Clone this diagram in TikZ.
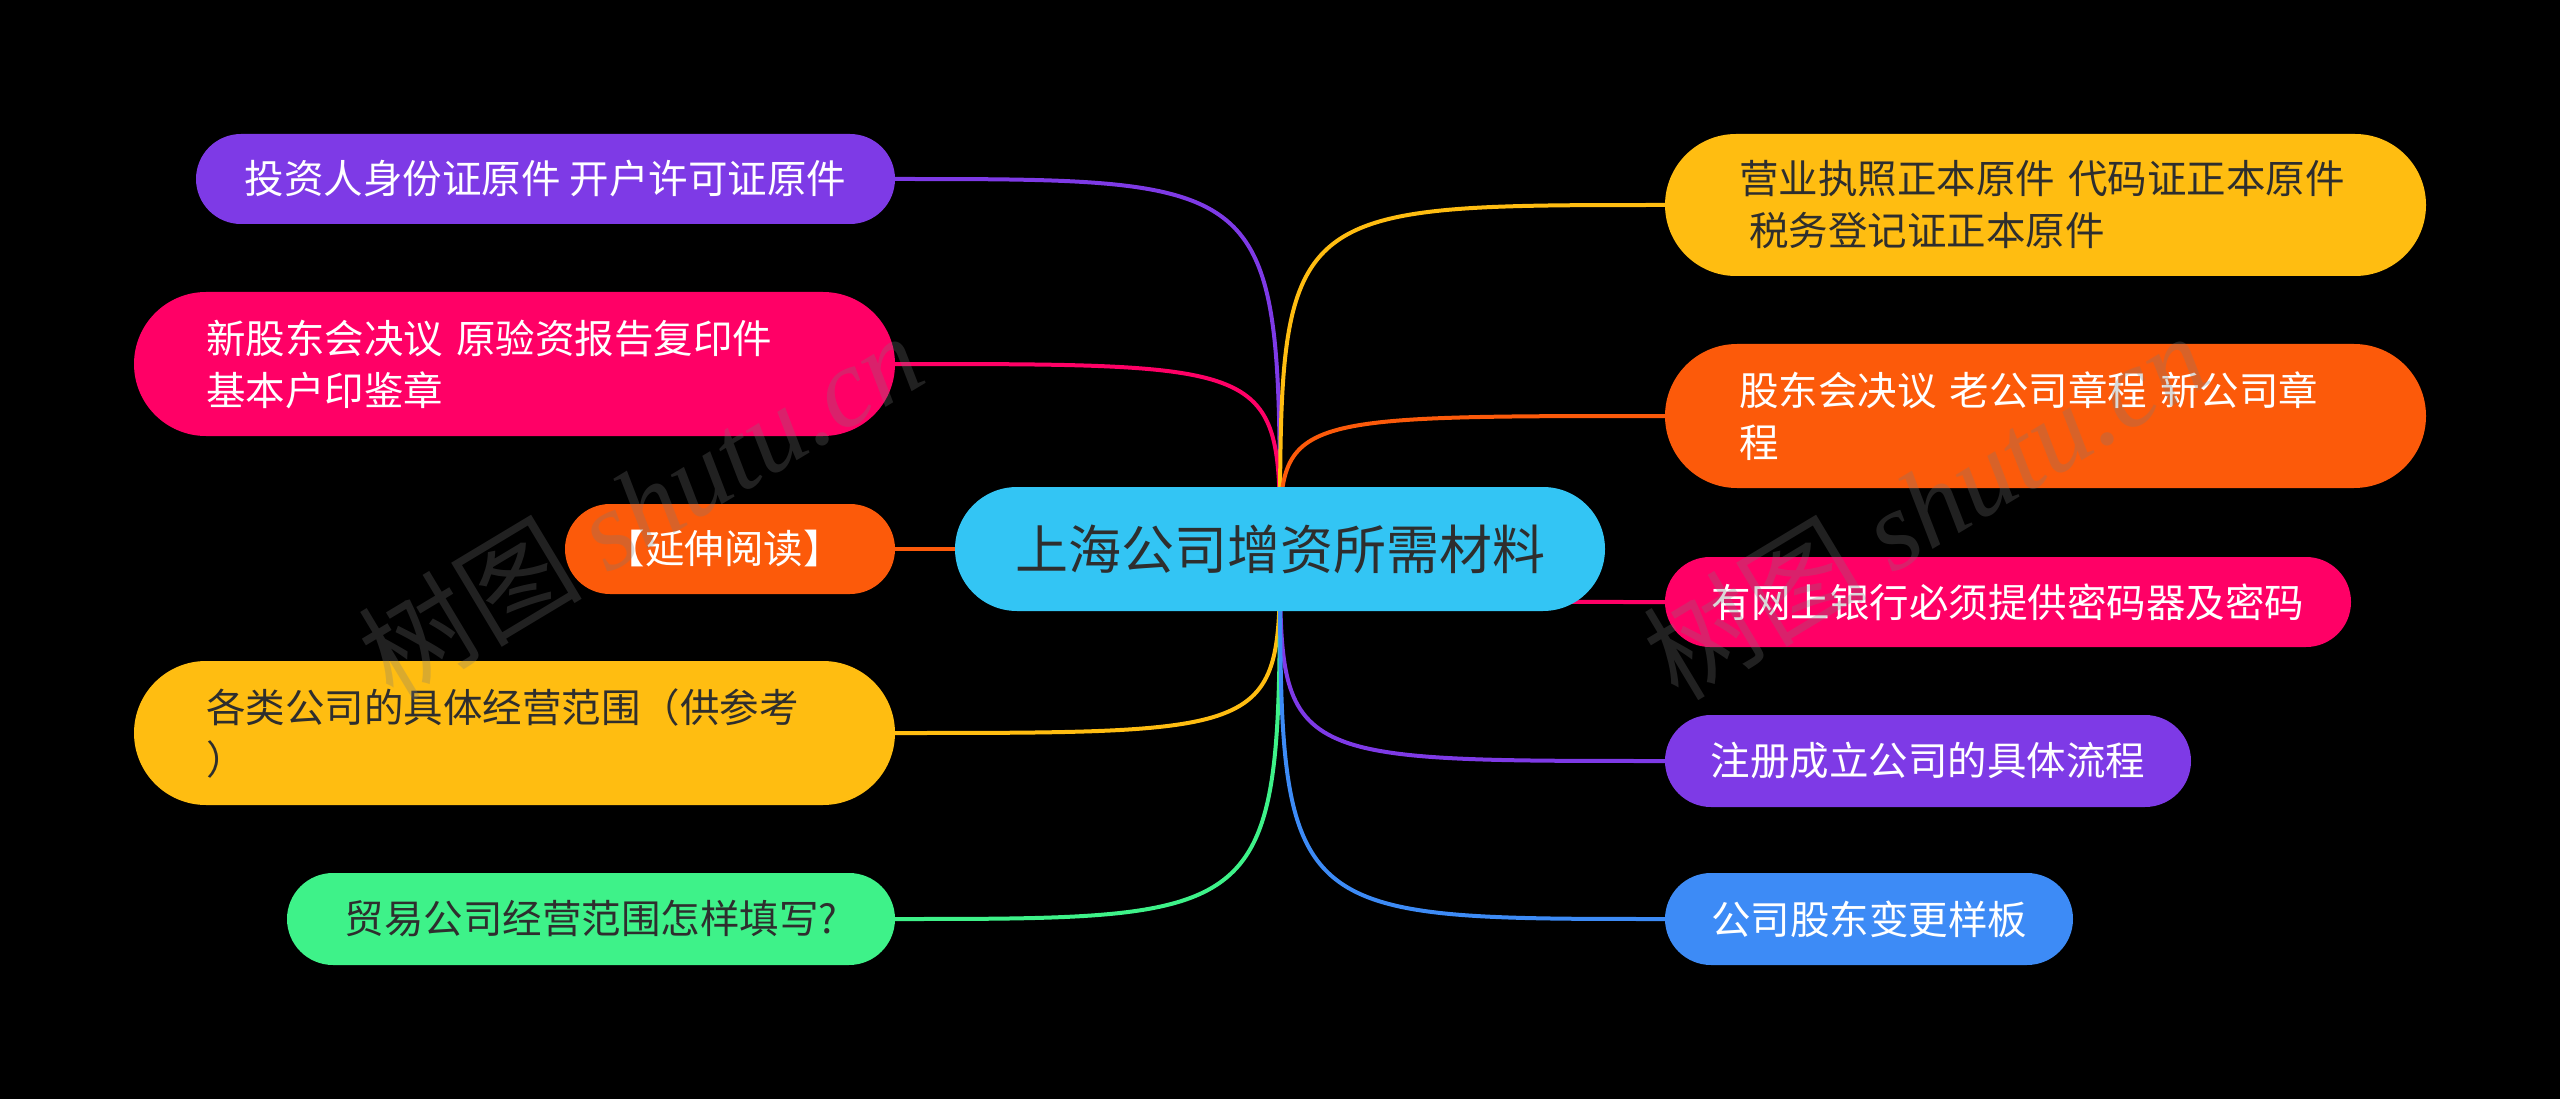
\documentclass[tikz,border=0pt]{standalone}
\usepackage{fontspec}
\setmainfont{Noto Sans CJK SC}
\newfontfamily\wmlatin{Liberation Serif}
\usetikzlibrary{backgrounds}
\definecolor{cpurple}{HTML}{7E3AE6}
\definecolor{cpink}{HTML}{FF0066}
\definecolor{corange}{HTML}{FC5A0A}
\definecolor{cyellow}{HTML}{FFBD11}
\definecolor{cgreen}{HTML}{3EF289}
\definecolor{cblue}{HTML}{3D8BF6}
\definecolor{ccyan}{HTML}{33C5F4}
\definecolor{dtext}{HTML}{2E2E2E}
\definecolor{wm}{HTML}{7A7A7A}
\begin{document}
\begin{tikzpicture}[x=1pt,y=-1pt,
  pill/.style={rectangle, rounded corners=#1, minimum height=2*#1, inner ysep=0pt,
    font=\fontsize{39.5pt}{52pt}\selectfont},
  lbl/.style={text width=#1, align=left},
  con/.style={draw=#1, line width=4pt},
  wmark/.style={rotate=31, text=wm, text opacity=0.28, font=\fontsize{112pt}{120pt}\selectfont}]
\useasboundingbox (0,0) rectangle (2560,1099);
\begin{scope}[on background layer]
\fill[black] (0,0) rectangle (2560,1099);
\end{scope}

% central node
\node[pill=62pt, fill=ccyan, minimum width=650pt, text=dtext,
  font=\fontsize{53pt}{60pt}\selectfont] (c) at (1280,549) {上海公司增资所需材料};

% left branches
\node[pill=45pt, fill=cpurple, minimum width=699pt, text=white] (l1) at (545.5,179)
  {投资人身份证原件 开户许可证原件};
\node[pill=72pt, fill=cpink, text=white, lbl=617pt, inner xsep=72pt] (l2) at (514.5,364)
  {新股东会决议 原验资报告复印件\\基本户印鉴章};
\node[pill=45pt, fill=corange, minimum width=330pt, text=white] (l3) at (730,549)
  {\hspace*{-12pt}【延伸阅读】};
\node[pill=72pt, fill=cyellow, text=dtext, lbl=617pt, inner xsep=72pt] (l4) at (514.5,733)
  {各类公司的具体经营范围（供参考\\）};
\node[pill=46pt, fill=cgreen, minimum width=608pt, text=dtext] (l5) at (591,919)
  {贸易公司经营范围怎样填写?};

% right branches
\node[pill=71pt, fill=cyellow, text=dtext, lbl=613pt, inner xsep=74pt] (r1) at (2045.5,205)
  {营业执照正本原件 代码证正本原件\\\hspace*{10pt}税务登记证正本原件};
\node[pill=72pt, fill=corange, text=white, lbl=613pt, inner xsep=74pt] (r2) at (2045.5,416)
  {股东会决议 老公司章程 新公司章\\程};
\node[pill=45pt, fill=cpink, minimum width=686pt, text=white] (r3) at (2008,602)
  {有网上银行必须提供密码器及密码};
\node[pill=46pt, fill=cpurple, minimum width=526pt, text=white] (r4) at (1928,761)
  {注册成立公司的具体流程};
\node[pill=46pt, fill=cblue, minimum width=408pt, text=white] (r5) at (1869,919)
  {公司股东变更样板};

% connectors
\begin{scope}[on background layer]
\draw[con=cpurple] (c.center) .. controls (c.center |- l1.east) .. (l1.east);
\draw[con=cpink]   (c.center) .. controls (c.center |- l2.east) .. (l2.east);
\draw[con=corange] (c.center) -- (l3.east);
\draw[con=cyellow] (c.center) .. controls (c.center |- l4.east) .. (l4.east);
\draw[con=cgreen]  (c.center) .. controls (c.center |- l5.east) .. (l5.east);
\draw[con=cyellow] (c.center) .. controls (c.center |- r1.west) .. (r1.west);
\draw[con=corange] (c.center) .. controls (c.center |- r2.west) .. (r2.west);
\draw[con=cpink]   (c.center) .. controls (c.center |- r3.west) .. (r3.west);
\draw[con=cpurple] (c.center) .. controls (c.center |- r4.west) .. (r4.west);
\draw[con=cblue]   (c.center) .. controls (c.center |- r5.west) .. (r5.west);
\end{scope}

% watermarks
\node[wmark] (w1) at (640,505) {树图 {\wmlatin\itshape shutu.cn}};
\node[wmark] (w2) at (1925,505) {树图 {\wmlatin\itshape shutu.cn}};
\end{tikzpicture}
\end{document}
